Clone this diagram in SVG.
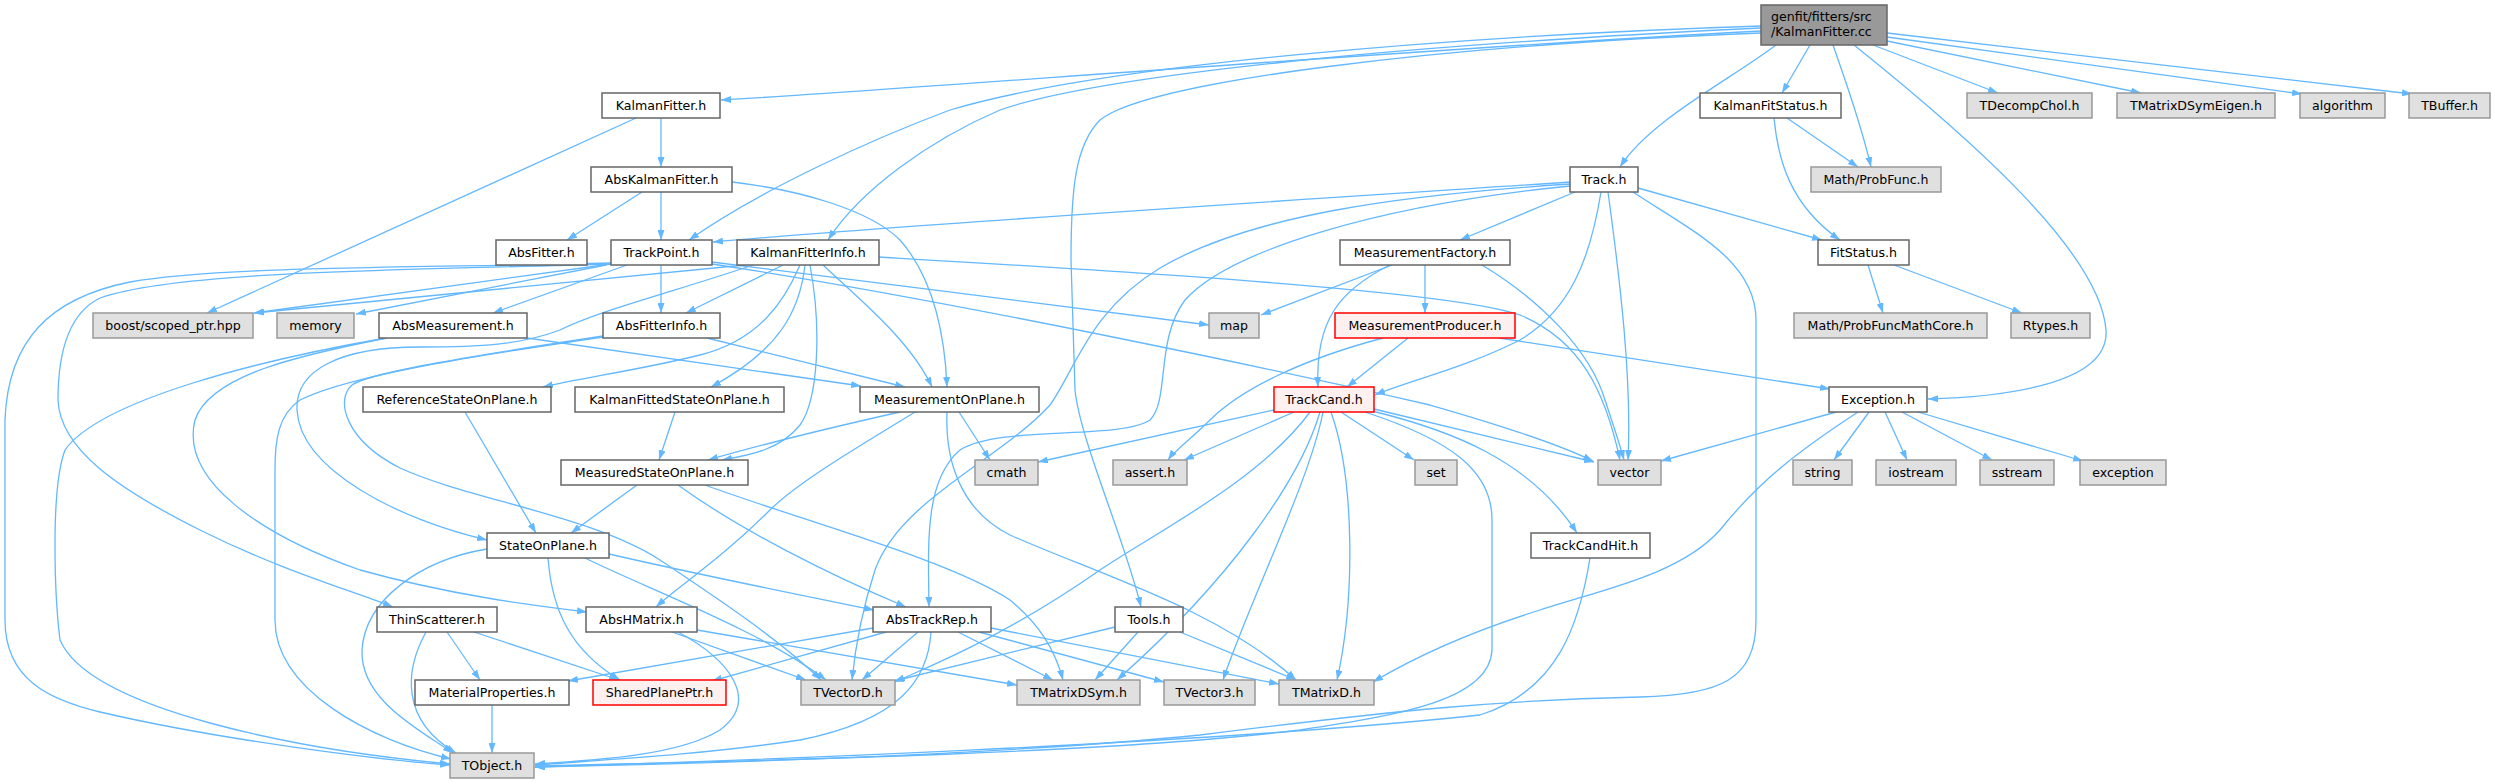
<svg xmlns="http://www.w3.org/2000/svg" width="2495" height="784" viewBox="0 0 2495 784">
<defs>
<marker id="a" viewBox="0 0 10 7" refX="10" refY="3.5" markerWidth="10" markerHeight="7" markerUnits="userSpaceOnUse" orient="auto">
<path d="M0,0 L10,3.5 L0,7 z" fill="#63b8ff"/>
</marker>
</defs>
<style>
.e path{fill:none;stroke:#63b8ff;stroke-width:1.3;marker-end:url(#a)}
.n rect{fill:#ffffff;stroke:#666666;stroke-width:1.5}
.n.x rect{fill:#e0e0e0;stroke:#999999}
.n.r rect{fill:#fff0f0;stroke:#ff0000}
.n.root rect{fill:#999999;stroke:#666666}
text{font-family:"DejaVu Sans",sans-serif;font-size:12.6px;text-anchor:middle;fill:#000000}
.root text{text-anchor:start}
</style>
<rect width="2495" height="784" fill="#ffffff"/>
<g id="edges" class="e">
<path d="M1761,31 C1400,50 900,90 721,100"/>
<path d="M1761,26 C1450,36 1100,65 950,110 C870,140 760,190 689,240"/>
<path d="M1761,28 C1400,45 1100,75 1000,110 C930,140 860,190 828,240"/>
<path d="M1761,33 C1450,45 1150,80 1100,120 C1075,145 1071,190 1071,260 L1075,390 C1080,440 1125,540 1141,607"/>
<path d="M1776,45 C1730,80 1650,120 1620,167"/>
<path d="M1810,45 L1782,93"/>
<path d="M1833,45 C1845,80 1860,120 1871,167"/>
<path d="M1854,45 C1960,130 2100,250 2106,330 C2110,385 2000,397 1928,399"/>
<path d="M1873,45 L1998,93"/>
<path d="M1887,41 L2141,93"/>
<path d="M1887,37 L2302,94"/>
<path d="M1887,33 L2412,94"/>
<path d="M661,118 L661,167"/>
<path d="M636,118 L207,313"/>
<path d="M642,192 L567,240"/>
<path d="M661,192 L661,240"/>
<path d="M732,182 C800,190 870,210 900,240 C935,280 945,340 947,387"/>
<path d="M611,264 L254,313"/>
<path d="M606,265 L356,314"/>
<path d="M627,265 L493,313"/>
<path d="M661,265 L661,313"/>
<path d="M611,264 C420,270 180,270 100,298 C65,315 58,360 58,400 C60,450 120,490 200,530 C280,570 350,590 393,607"/>
<path d="M611,263 C420,268 220,266 130,282 C50,298 8,340 5,420 L5,620 C5,680 50,700 100,712 C220,740 380,760 450,765"/>
<path d="M712,262 C850,280 1100,310 1209,325"/>
<path d="M712,264 C950,300 1300,375 1430,405 C1500,425 1560,445 1593,461"/>
<path d="M745,265 L254,313"/>
<path d="M783,265 L686,313"/>
<path d="M800,265 C785,300 760,340 700,355 C640,370 580,378 543,387"/>
<path d="M805,265 C800,310 780,350 711,387"/>
<path d="M810,265 C822,330 818,400 800,425 C780,450 750,455 722,460"/>
<path d="M823,265 C860,300 910,340 932,387"/>
<path d="M753,265 C680,290 600,310 560,330 C520,345 480,347 420,347 C340,347 295,370 297,410 C300,470 400,520 487,540"/>
<path d="M879,257 C1100,270 1450,290 1520,315 C1580,340 1605,390 1620,460"/>
<path d="M527,338 L861,386"/>
<path d="M387,338 C300,355 210,375 195,420 C180,480 260,535 360,570 C450,595 530,605 587,612"/>
<path d="M386,338 C260,360 100,400 65,450 C50,490 55,600 60,640 C90,710 300,750 450,764"/>
<path d="M707,338 L905,387"/>
<path d="M603,337 C480,355 350,375 300,400 C278,415 275,440 275,470 L275,620 C275,690 370,740 451,759"/>
<path d="M603,336 C480,355 370,372 352,385 C335,400 345,440 400,468 C470,500 590,515 660,560 C720,600 780,640 821,680"/>
<path d="M900,412 C820,430 760,445 708,460"/>
<path d="M915,412 C870,440 800,480 770,510 C720,560 680,585 656,607"/>
<path d="M959,412 L990,460"/>
<path d="M947,412 C945,460 960,510 1010,535 C1100,575 1220,610 1296,680"/>
<path d="M675,412 L659,460"/>
<path d="M465,412 L536,533"/>
<path d="M637,485 L571,533"/>
<path d="M678,485 C740,530 830,575 906,607"/>
<path d="M705,485 C800,520 950,560 1010,600 C1040,625 1055,650 1063,680"/>
<path d="M487,549 C420,560 365,600 362,650 C360,700 420,730 453,753"/>
<path d="M548,558 C552,610 570,650 620,680"/>
<path d="M609,554 C700,575 800,595 874,610"/>
<path d="M585,558 C650,590 760,630 826,680"/>
<path d="M447,632 L480,680"/>
<path d="M474,632 L619,680"/>
<path d="M426,632 C405,670 400,720 456,753"/>
<path d="M697,630 L1017,685"/>
<path d="M672,632 L806,680"/>
<path d="M678,632 C730,660 760,700 720,730 C680,755 600,760 535,764"/>
<path d="M492,705 L492,753"/>
<path d="M873,628 L568,681"/>
<path d="M886,632 L712,681"/>
<path d="M918,632 L862,680"/>
<path d="M958,632 L1053,680"/>
<path d="M979,632 L1164,682"/>
<path d="M991,628 L1279,684"/>
<path d="M931,632 C928,680 900,720 800,740 C700,755 600,760 535,765"/>
<path d="M1115,627 L894,681"/>
<path d="M1138,632 L1095,680"/>
<path d="M1180,632 L1296,680"/>
<path d="M1274,410 L1038,462"/>
<path d="M1294,412 L1184,460"/>
<path d="M1341,412 L1414,460"/>
<path d="M1374,409 L1594,462"/>
<path d="M1372,411 C1450,430 1530,460 1577,533"/>
<path d="M1310,412 C1260,480 1160,530 1100,570 C1000,640 920,670 895,682"/>
<path d="M1320,412 C1300,480 1230,580 1117,680"/>
<path d="M1323,412 C1310,480 1250,600 1223,680"/>
<path d="M1331,412 C1355,480 1355,600 1337,680"/>
<path d="M1365,412 C1450,440 1492,470 1492,520 L1492,650 C1490,700 1400,715 1300,730 C1100,755 700,762 535,766"/>
<path d="M1590,558 C1580,620 1560,690 1480,715 C1200,745 700,762 535,767"/>
<path d="M1570,182 C1300,200 900,225 713,242"/>
<path d="M1570,184 C1400,195 1250,215 1160,268 C1090,310 1075,370 1050,405 C1000,460 900,500 875,570 C862,610 855,650 852,680"/>
<path d="M1570,186 C1380,205 1230,250 1185,300 C1155,340 1170,400 1150,420 C1120,440 1000,425 960,450 C925,480 928,540 929,607"/>
<path d="M1575,192 L1460,240"/>
<path d="M1601,192 C1590,260 1570,310 1520,340 C1460,370 1410,380 1375,395"/>
<path d="M1608,192 C1620,280 1632,380 1628,460"/>
<path d="M1638,188 L1822,240"/>
<path d="M1633,192 C1690,230 1756,260 1756,320 L1756,620 C1756,680 1720,695 1640,697 C1500,700 1400,710 1200,735 C1000,755 700,764 535,767"/>
<path d="M1392,265 L1261,315"/>
<path d="M1425,265 L1425,313"/>
<path d="M1390,265 C1340,290 1315,320 1318,387"/>
<path d="M1482,265 C1540,300 1590,350 1605,400 C1615,430 1620,445 1624,460"/>
<path d="M1408,338 L1347,387"/>
<path d="M1383,338 C1300,360 1240,390 1210,420 C1190,440 1175,450 1168,460"/>
<path d="M1499,338 L1830,389"/>
<path d="M1836,412 L1661,461"/>
<path d="M1869,412 L1834,460"/>
<path d="M1885,412 L1907,460"/>
<path d="M1902,412 L1992,460"/>
<path d="M1918,412 L2083,461"/>
<path d="M1858,412 C1800,450 1760,480 1720,530 C1680,575 1600,590 1540,610 C1460,635 1410,660 1373,682"/>
<path d="M1774,118 C1778,160 1790,205 1840,240"/>
<path d="M1787,118 L1858,167"/>
<path d="M1868,265 L1883,313"/>
<path d="M1894,265 L2022,313"/>
</g>
<g id="n_root" class="n root"><rect x="1761" y="5" width="126" height="40"/><text x="1771" y="21">genfit/fitters/src</text><text x="1771" y="36">/KalmanFitter.cc</text></g>
<g id="n_KalmanFitter_h" class="n"><rect x="602" y="93" width="118" height="25"/><text x="661" y="110">KalmanFitter.h</text></g>
<g id="n_KalmanFitStatus_h" class="n"><rect x="1700" y="93" width="141" height="25"/><text x="1770.5" y="110">KalmanFitStatus.h</text></g>
<g id="n_TDecompChol_h" class="n x"><rect x="1967" y="93" width="125" height="25"/><text x="2029.5" y="110">TDecompChol.h</text></g>
<g id="n_TMatrixDSymEigen_h" class="n x"><rect x="2117" y="93" width="158" height="25"/><text x="2196" y="110">TMatrixDSymEigen.h</text></g>
<g id="n_algorithm" class="n x"><rect x="2300" y="93" width="85" height="25"/><text x="2342.5" y="110">algorithm</text></g>
<g id="n_TBuffer_h" class="n x"><rect x="2409" y="93" width="81" height="25"/><text x="2449.5" y="110">TBuffer.h</text></g>
<g id="n_AbsKalmanFitter_h" class="n"><rect x="591" y="167" width="141" height="25"/><text x="661.5" y="184">AbsKalmanFitter.h</text></g>
<g id="n_Track_h" class="n"><rect x="1570" y="167" width="68" height="25"/><text x="1604" y="184">Track.h</text></g>
<g id="n_Math_ProbFunc_h" class="n x"><rect x="1811" y="167" width="130" height="25"/><text x="1876" y="184">Math/ProbFunc.h</text></g>
<g id="n_AbsFitter_h" class="n"><rect x="496" y="240" width="91" height="25"/><text x="541.5" y="257">AbsFitter.h</text></g>
<g id="n_TrackPoint_h" class="n"><rect x="611" y="240" width="101" height="25"/><text x="661.5" y="257">TrackPoint.h</text></g>
<g id="n_KalmanFitterInfo_h" class="n"><rect x="737" y="240" width="142" height="25"/><text x="808" y="257">KalmanFitterInfo.h</text></g>
<g id="n_MeasurementFactory_h" class="n"><rect x="1340" y="240" width="170" height="25"/><text x="1425" y="257">MeasurementFactory.h</text></g>
<g id="n_FitStatus_h" class="n"><rect x="1818" y="240" width="91" height="25"/><text x="1863.5" y="257">FitStatus.h</text></g>
<g id="n_boost_scoped_ptr_hpp" class="n x"><rect x="93" y="313" width="160" height="25"/><text x="173" y="330">boost/scoped_ptr.hpp</text></g>
<g id="n_memory" class="n x"><rect x="277" y="313" width="77" height="25"/><text x="315.5" y="330">memory</text></g>
<g id="n_AbsMeasurement_h" class="n"><rect x="379" y="313" width="148" height="25"/><text x="453" y="330">AbsMeasurement.h</text></g>
<g id="n_AbsFitterInfo_h" class="n"><rect x="603" y="313" width="117" height="25"/><text x="661.5" y="330">AbsFitterInfo.h</text></g>
<g id="n_map" class="n x"><rect x="1209" y="313" width="50" height="25"/><text x="1234" y="330">map</text></g>
<g id="n_MeasurementProducer_h" class="n r"><rect x="1335" y="313" width="180" height="25"/><text x="1425" y="330">MeasurementProducer.h</text></g>
<g id="n_Math_ProbFuncMathCore_h" class="n x"><rect x="1794" y="313" width="193" height="25"/><text x="1890.5" y="330">Math/ProbFuncMathCore.h</text></g>
<g id="n_Rtypes_h" class="n x"><rect x="2011" y="313" width="79" height="25"/><text x="2050.5" y="330">Rtypes.h</text></g>
<g id="n_ReferenceStateOnPlane_h" class="n"><rect x="363" y="387" width="188" height="25"/><text x="457" y="404">ReferenceStateOnPlane.h</text></g>
<g id="n_KalmanFittedStateOnPlane_h" class="n"><rect x="575" y="387" width="209" height="25"/><text x="679.5" y="404">KalmanFittedStateOnPlane.h</text></g>
<g id="n_MeasurementOnPlane_h" class="n"><rect x="860" y="387" width="179" height="25"/><text x="949.5" y="404">MeasurementOnPlane.h</text></g>
<g id="n_TrackCand_h" class="n r"><rect x="1274" y="387" width="100" height="25"/><text x="1324" y="404">TrackCand.h</text></g>
<g id="n_Exception_h" class="n"><rect x="1829" y="387" width="98" height="25"/><text x="1878" y="404">Exception.h</text></g>
<g id="n_MeasuredStateOnPlane_h" class="n"><rect x="561" y="460" width="187" height="25"/><text x="654.5" y="477">MeasuredStateOnPlane.h</text></g>
<g id="n_cmath" class="n x"><rect x="975" y="460" width="63" height="25"/><text x="1006.5" y="477">cmath</text></g>
<g id="n_assert_h" class="n x"><rect x="1113" y="460" width="74" height="25"/><text x="1150" y="477">assert.h</text></g>
<g id="n_set" class="n x"><rect x="1415" y="460" width="42" height="25"/><text x="1436" y="477">set</text></g>
<g id="n_vector" class="n x"><rect x="1598" y="460" width="63" height="25"/><text x="1629.5" y="477">vector</text></g>
<g id="n_string" class="n x"><rect x="1793" y="460" width="59" height="25"/><text x="1822.5" y="477">string</text></g>
<g id="n_iostream" class="n x"><rect x="1876" y="460" width="80" height="25"/><text x="1916" y="477">iostream</text></g>
<g id="n_sstream" class="n x"><rect x="1980" y="460" width="74" height="25"/><text x="2017" y="477">sstream</text></g>
<g id="n_exception" class="n x"><rect x="2080" y="460" width="86" height="25"/><text x="2123" y="477">exception</text></g>
<g id="n_StateOnPlane_h" class="n"><rect x="487" y="533" width="122" height="25"/><text x="548" y="550">StateOnPlane.h</text></g>
<g id="n_TrackCandHit_h" class="n"><rect x="1531" y="533" width="119" height="25"/><text x="1590.5" y="550">TrackCandHit.h</text></g>
<g id="n_ThinScatterer_h" class="n"><rect x="377" y="607" width="120" height="25"/><text x="437" y="624">ThinScatterer.h</text></g>
<g id="n_AbsHMatrix_h" class="n"><rect x="586" y="607" width="111" height="25"/><text x="641.5" y="624">AbsHMatrix.h</text></g>
<g id="n_AbsTrackRep_h" class="n"><rect x="873" y="607" width="118" height="25"/><text x="932" y="624">AbsTrackRep.h</text></g>
<g id="n_Tools_h" class="n"><rect x="1115" y="607" width="68" height="25"/><text x="1149" y="624">Tools.h</text></g>
<g id="n_MaterialProperties_h" class="n"><rect x="415" y="680" width="154" height="25"/><text x="492" y="697">MaterialProperties.h</text></g>
<g id="n_SharedPlanePtr_h" class="n r"><rect x="593" y="680" width="133" height="25"/><text x="659.5" y="697">SharedPlanePtr.h</text></g>
<g id="n_TVectorD_h" class="n x"><rect x="801" y="680" width="94" height="25"/><text x="848" y="697">TVectorD.h</text></g>
<g id="n_TMatrixDSym_h" class="n x"><rect x="1017" y="680" width="123" height="25"/><text x="1078.5" y="697">TMatrixDSym.h</text></g>
<g id="n_TVector3_h" class="n x"><rect x="1164" y="680" width="91" height="25"/><text x="1209.5" y="697">TVector3.h</text></g>
<g id="n_TMatrixD_h" class="n x"><rect x="1279" y="680" width="95" height="25"/><text x="1326.5" y="697">TMatrixD.h</text></g>
<g id="n_TObject_h" class="n x"><rect x="450" y="753" width="84" height="25"/><text x="492" y="770">TObject.h</text></g>
</svg>
